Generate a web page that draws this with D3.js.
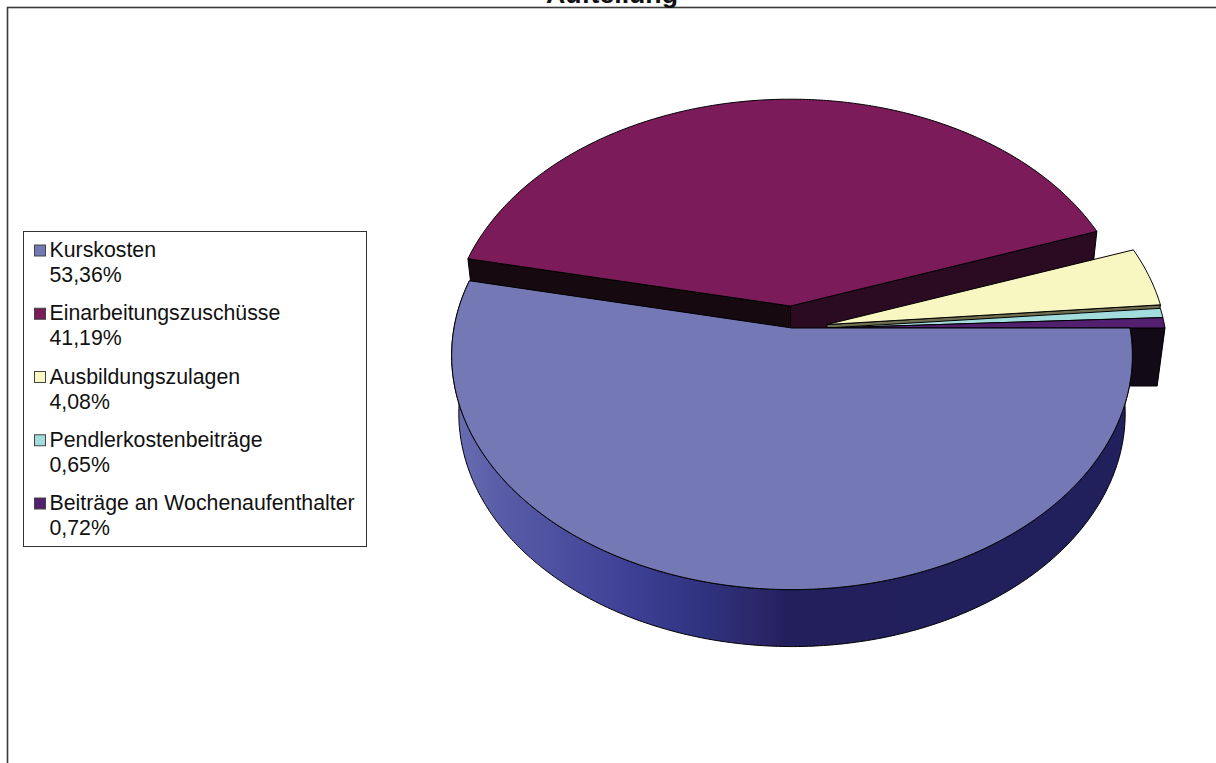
<!DOCTYPE html>
<html>
<head>
<meta charset="utf-8">
<script src="https://cdn.jsdelivr.net/npm/d3@7"></script>
<style>
html, body { margin: 0; padding: 0; background: #fff; overflow: hidden; }
svg { display: block; }
text { font-family: "Liberation Sans", Arial, sans-serif; fill: #111; }
</style>
</head>
<body>
<script>
// Shares of the five cost types, in percent
const categories = ["Kurskosten", "Einarbeitungszuschüsse", "Ausbildungszulagen", "Pendlerkostenbeiträge", "Beiträge an Wochenaufenthalter"];
const shares = [53.36, 41.19, 4.08, 0.65, 0.72];
const shareLabels = ["53,36%", "41,19%", "4,08%", "0,65%", "0,72%"];
const topColors = ["#7479b6", "#7c1b59", "#f9f7c1", "#a3dcdc", "#53206f"];
const chartTitle = "Aufteilung";

const W = 1216, H = 763;
const svg = d3.select("body").append("svg").attr("width", W).attr("height", H);

// Frame around the chart area
svg.append("rect").attr("x", 7.5).attr("y", 7.5).attr("width", W).attr("height", H)
  .attr("fill", "#fff").attr("stroke", "#3a3a3a").attr("stroke-width", 1.6);

svg.append("text").attr("x", 612).attr("y", 3).attr("text-anchor", "middle")
  .attr("font-size", 26.7).attr("font-weight", "bold").text(chartTitle);

// Tilted disc geometry: a circle seen in perspective, extruded downwards
const rx = 338, ry = 231, persp = 0.117, depth = 58, shrinkX = 0.979, shrinkY = 0.996;
const hubX = 792, hubY = 328;
// Offset of each exploded slice from the hub
const explode = [[0, 0], [-1.5, -22], [35, -3.5], [35, 0], [35, 0]];

const rimX = d3.scaleLinear().domain([-1, 1]).range([-rx, rx]);
const rimY = d3.scaleLinear().domain([-1, 1]).range([-ry, ry]);

function topPoint(a, off) {
  const s = 1 / (1 - persp * Math.sin(a));
  return [hubX + off[0] + rimX(Math.cos(a)) * s, hubY + off[1] + rimY(Math.sin(a)) * s];
}
function lowerPoint(p) {
  return [hubX + (p[0] - hubX) * shrinkX, hubY + depth + (p[1] - hubY) * shrinkY];
}

const slices = d3.pie().sort(null).startAngle(0).endAngle(2 * Math.PI)(shares);
const line = d3.line();

function arcPoints(a0, a1, off) {
  const n = Math.max(2, Math.ceil(Math.abs(a1 - a0) / 0.01));
  return d3.range(n + 1).map(i => topPoint(a0 + (a1 - a0) * i / n, off));
}
function slicePath(i) {
  const d = slices[i], off = explode[i];
  return line([[hubX + off[0], hubY + off[1]], ...arcPoints(d.startAngle, d.endAngle, off)]) + "Z";
}
function radialWall(a, off) {
  const c = [hubX + off[0], hubY + off[1]], r = topPoint(a, off);
  return line([c, r, lowerPoint(r), lowerPoint(c)]) + "Z";
}
const edge = { stroke: "#000", "stroke-width": 1, "stroke-linejoin": "round" };
function draw(d, fill) {
  const p = svg.append("path").attr("d", d).attr("fill", fill);
  Object.entries(edge).forEach(([k, v]) => p.attr(k, v));
  return p;
}

// Shading of the outer wall of the front slice
const defs = svg.append("defs");
const wallGrad = defs.append("linearGradient").attr("id", "wallShade")
  .attr("gradientUnits", "userSpaceOnUse").attr("x1", 452).attr("x2", 1130).attr("y1", 0).attr("y2", 0);
[[0, "#6a70b4"], [0.064, "#5a5ea8"], [0.26, "#3e4096"], [0.37, "#2f3380"], [0.47, "#2a2464"], [0.49, "#221f5c"], [1, "#20205c"]]
  .forEach(([o, c]) => wallGrad.append("stop").attr("offset", o).attr("stop-color", c));

// Painted back to front
draw(radialWall(slices[1].startAngle, explode[1]), "#170910");
draw(radialWall(slices[1].endAngle, explode[1]), "#2b0b22");
draw(slicePath(1), topColors[1]);

draw(radialWall(slices[2].endAngle, explode[2]), "#6f6d50");
draw(slicePath(2), topColors[2]);

draw(slicePath(3), topColors[3]);

draw(radialWall(slices[4].endAngle, explode[4]), "#130a18");
draw(slicePath(4), topColors[4]);

const frontRim = arcPoints(slices[0].startAngle, slices[0].endAngle, explode[0]);
draw(line([...frontRim, ...frontRim.map(lowerPoint).reverse()]) + "Z", "url(#wallShade)");
draw(slicePath(0), topColors[0]);

// Legend
const legendX = 23, legendY = 231, legendW = 343, legendH = 315;
svg.append("rect").attr("x", legendX + 0.5).attr("y", legendY + 0.5)
  .attr("width", legendW).attr("height", legendH)
  .attr("fill", "#fff").attr("stroke", "#333");

const rowY = d3.scalePoint().domain(categories).range([257, 510]);
const rows = svg.selectAll("g.legend-row").data(categories).join("g").attr("class", "legend-row")
  .attr("transform", d => `translate(0,${rowY(d)})`);
rows.append("rect").attr("x", 34.5).attr("y", -12).attr("width", 11).attr("height", 11)
  .attr("fill", (d, i) => topColors[i]).attr("stroke", "#444");
rows.append("text").attr("x", 49.5).attr("y", 0).attr("font-size", 21.3).text(d => d);
rows.append("text").attr("x", 49.5).attr("y", 25).attr("font-size", 21.3).text((d, i) => shareLabels[i]);
</script>
</body>
</html>
